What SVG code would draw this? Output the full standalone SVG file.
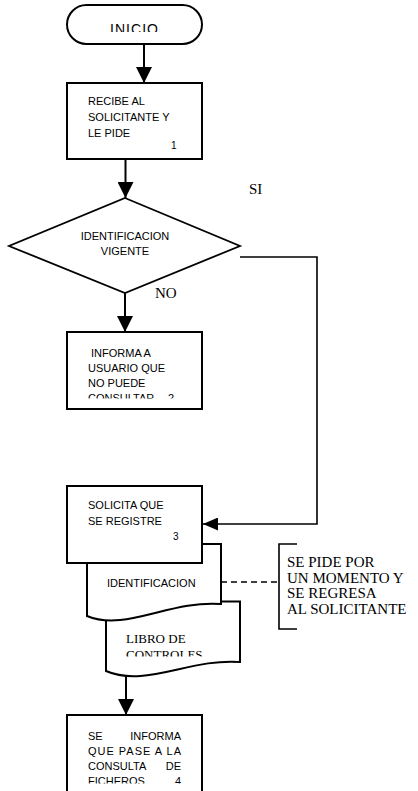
<svg xmlns="http://www.w3.org/2000/svg" width="418" height="791" viewBox="0 0 418 791">
<style>
.shape{fill:#fff;stroke:#000;stroke-width:2}
.line{fill:none;stroke:#000;stroke-width:2}
.thin{fill:none;stroke:#000;stroke-width:1.6}
.sans{font-family:"Liberation Sans",Arial,sans-serif;font-size:11px;fill:#000}
.num{font-family:"Liberation Sans",Arial,sans-serif;font-size:10px;fill:#000}
.serif{font-family:"Liberation Serif","Times New Roman",serif;font-size:15px;fill:#000}
.serif13{font-family:"Liberation Serif","Times New Roman",serif;font-size:13px;fill:#000}
</style>
<defs>
<marker id="ah" viewBox="0 0 16 16" refX="16" refY="8" markerWidth="16" markerHeight="16" orient="auto" markerUnits="userSpaceOnUse"><path d="M0,0 L16,8 L0,16 Z" fill="#000"/></marker>
<marker id="ah2" viewBox="0 0 15 13" refX="15" refY="6.5" markerWidth="15" markerHeight="13" orient="auto" markerUnits="userSpaceOnUse"><path d="M0,0 L15,6.5 L0,13 Z" fill="#000"/></marker>
<clipPath id="c-inicio"><rect x="60" y="0" width="150" height="32"/></clipPath>
<clipPath id="c-box2"><rect x="60" y="330" width="150" height="68.5"/></clipPath>
<clipPath id="c-libro"><rect x="100" y="620" width="150" height="36.5"/></clipPath>
<clipPath id="c-box4"><rect x="60" y="715" width="150" height="68.5"/></clipPath>
</defs>

<g id="connectors">
<line class="line" x1="144" y1="44" x2="144" y2="83" marker-end="url(#ah)"/>
<line class="line" x1="125.5" y1="159" x2="125.5" y2="198" marker-end="url(#ah)"/>
<line class="line" x1="125" y1="293" x2="125" y2="332" marker-end="url(#ah)"/>
<line class="line" x1="126" y1="677" x2="126" y2="715" marker-end="url(#ah)"/>
<polyline class="thin" points="240,257 317,257 317,524 203,524" marker-end="url(#ah2)"/>
<line class="thin" x1="221" y1="582" x2="279" y2="582" stroke-dasharray="6,4"/>
<text class="serif" x="249" y="193.5">SI</text>
<text class="serif" x="155" y="298">NO</text>
</g>

<g id="inicio">
<rect class="shape" x="67" y="5" width="135" height="39" rx="19.5" ry="19.5"/>
<text class="sans" style="font-size:14px" x="110" y="33.5" textLength="48" lengthAdjust="spacing" clip-path="url(#c-inicio)">INICIO</text>
</g>

<g id="recibe">
<rect class="shape" x="67" y="83" width="135" height="76"/>
<text class="sans" x="88" y="105">RECIBE AL</text>
<text class="sans" x="88" y="121">SOLICITANTE Y</text>
<text class="sans" x="88" y="137">LE PIDE</text>
<text class="num" x="171" y="149">1</text>
</g>

<g id="identificacion-vigente">
<polygon class="shape" points="125,198 240,246 125,293 9,246" style="stroke-width:1.8"/>
<text class="sans" x="125" y="240" text-anchor="middle">IDENTIFICACION</text>
<text class="sans" x="125" y="255" text-anchor="middle">VIGENTE</text>
</g>

<g id="informa">
<rect class="shape" x="67" y="332" width="135" height="77"/>
<g clip-path="url(#c-box2)">
<text class="sans" x="91" y="356.5">INFORMA A</text>
<text class="sans" x="88" y="371.5">USUARIO QUE</text>
<text class="sans" x="88" y="386.5">NO PUEDE</text>
<text class="sans" x="88" y="401.5">CONSULTAR<tspan x="168">2</tspan></text>
</g>
</g>

<g id="libro">
<path class="shape" d="M106,601.5 H240 V662 C190,658 145,688 106,671 Z"/>
<text class="serif13" x="126" y="643">LIBRO DE</text>
<text class="serif13" x="126" y="658.5" clip-path="url(#c-libro)">CONTROLES</text>
</g>

<g id="doc-identificacion">
<path class="shape" d="M87,544 H221 V604 C170,600 125,632 87,616 Z"/>
<text class="sans" x="107" y="586.5">IDENTIFICACION</text>
</g>

<g id="solicita">
<rect class="shape" x="67" y="486" width="135" height="77"/>
<text class="sans" x="88" y="509">SOLICITA QUE</text>
<text class="sans" x="88" y="525">SE REGISTRE</text>
<text class="num" x="173" y="540">3</text>
</g>

<g id="informa-ficheros">
<rect class="shape" x="67" y="715" width="135" height="90"/>
<g clip-path="url(#c-box4)">
<text class="sans" x="88" y="740">SE</text>
<text class="sans" x="181" y="740" text-anchor="end">INFORMA</text>
<text class="sans" x="88" y="755" textLength="93" lengthAdjust="spacing">QUE PASE A LA</text>
<text class="sans" x="88" y="770">CONSULTA</text>
<text class="sans" x="181" y="770" text-anchor="end">DE</text>
<text class="sans" x="88" y="785">FICHEROS</text>
<text class="sans" x="181" y="785" text-anchor="end">4</text>
</g>
</g>

<g id="nota">
<polyline class="thin" points="297,544 279,544 279,629 297,629"/>
<text class="serif" x="287" y="567">SE PIDE POR</text>
<text class="serif" x="287" y="582.5">UN MOMENTO Y</text>
<text class="serif" x="287" y="598">SE REGRESA</text>
<text class="serif" x="287" y="613.5">AL SOLICITANTE</text>
</g>
</svg>
